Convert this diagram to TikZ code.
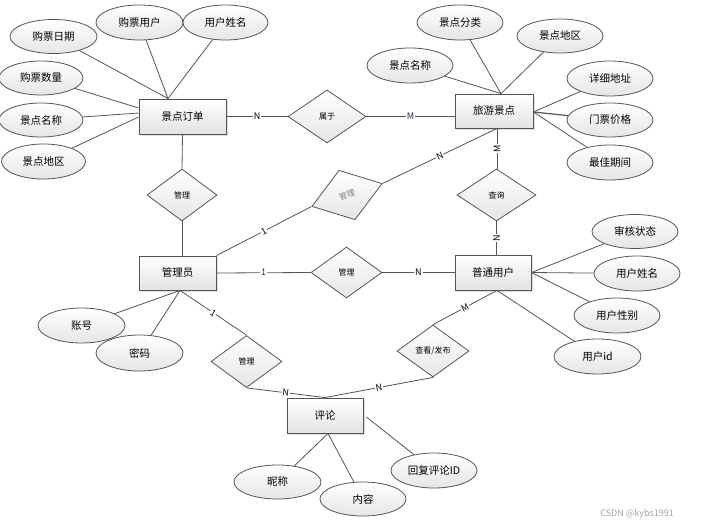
\documentclass[tikz,border=0pt]{standalone}
\usepackage{fontspec}
\setmainfont{Noto Sans CJK SC}
\usetikzlibrary{shapes.geometric,shadows,calc}
\definecolor{linec}{RGB}{85,85,85}
\definecolor{navy}{RGB}{25,45,120}
\begin{document}
\begin{tikzpicture}[x=1pt,y=-1pt,
  ent/.style={rectangle, draw=linec, line width=0.9pt, top color=white, bottom color=gray!22,
    minimum width=#1, minimum height=35pt, inner sep=0pt, font=\fontsize{10.5}{12}\selectfont,
    drop shadow={opacity=0.25,shadow xshift=1.5pt,shadow yshift=-1.5pt}},
  ent/.default=77pt,
  att/.style={ellipse, draw=linec, line width=0.8pt, top color=white, bottom color=gray!20,
    minimum width=#1, minimum height=34pt, inner sep=0pt, font=\fontsize{10.5}{12}\selectfont},
  att/.default=86pt,
  rel/.style={diamond, draw=linec, line width=0.8pt, top color=white, bottom color=gray!20,
    minimum width=#1, minimum height=52pt, inner sep=0pt, font=\fontsize{8}{9}\selectfont},
  rel/.default=72pt,
  conn/.style={draw=linec, line width=0.8pt},
  lab/.style={fill=white, inner sep=0.8pt, font=\fontsize{9}{10}\selectfont},
]
\fill[white] (0,0) rectangle (706,527);
\useasboundingbox (0,0) rectangle (706,527);

% entities
\node[ent=87pt] (o) at (182.5,116.5) {景点订单};
\node[ent=78pt, minimum height=34pt] (s) at (494,111) {旅游景点};
\node[ent=77pt, minimum height=34pt] (a) at (177.5,273) {管理员};
\node[ent=76pt] (u) at (493,272.5) {普通用户};
\node[ent=76pt] (c) at (325,415.5) {评论};

% relationships
\node[rel=78pt, minimum height=53pt] (r1) at (327,116.5) {属于};
\node[rel=70pt] (r2) at (182,195) {管理};
\node[rel=74pt, rotate=18, text=gray] (rg) at (347,195) {管理};
\node[rel=71pt, minimum height=51pt] (r3) at (346.5,272.5) {管理};
\node[rel=79pt] (r4) at (496.5,195) {查询};
\node[rel=72pt] (r5) at (433,351) {查看/发布};
\node[rel=71pt] (r6) at (246.5,361.5) {管理};

% attributes of 景点订单
\node[att=87pt] (e1) at (53.5,36.5) {购票日期};
\node[att=87pt, minimum height=35pt] (e2) at (139.5,22.5) {购票用户};
\node[att=85pt, minimum height=35pt] (e3) at (225.5,22.5) {用户姓名};
\node[att=84pt] (e4) at (41,78) {购票数量};
\node[att=84pt] (e5) at (41,120) {景点名称};
\node[att=84pt, minimum height=35pt] (e6) at (43.5,161.5) {景点地区};

% attributes of 旅游景点
\node[att, minimum height=35pt] (f1) at (460,22.5) {景点分类};
\node[att] (f2) at (560,36) {景点地区};
\node[att, minimum height=35pt] (f3) at (410,65.5) {景点名称};
\node[att, minimum height=35pt] (f4) at (610,78.5) {详细地址};
\node[att] (f5) at (610,120) {门票价格};
\node[att, minimum height=35pt] (f6) at (610,162.5) {最佳期间};

% attributes of 普通用户
\node[att] (g1) at (635,231.5) {审核状态};
\node[att, minimum height=35pt] (g2) at (637,273.5) {用户姓名};
\node[att, minimum height=35pt] (g3) at (617,315.5) {用户性别};
\node[att=87pt, minimum height=35pt] (g4) at (597.5,356.5) {用户id};

% attributes of 管理员
\node[att=87pt, minimum height=35pt] (h1) at (81.5,325.5) {账号};
\node[att=87pt, minimum height=36pt] (h2) at (139.5,353) {密码};

% attributes of 评论
\node[att=87pt] (k1) at (277.5,482) {昵称};
\node[att=86pt] (k2) at (363,499) {内容};
\node[att=86pt, minimum height=35pt] (k3) at (434,470.5) {回复评论ID};

% anchor points
\coordinate (oT) at ($(o.north)+(-14.5,0)$);
\coordinate (oL1) at ($(o.west)+(0,-8.5)$);
\coordinate (oL2) at ($(o.west)+(0,-3.5)$);
\coordinate (oL3) at ($(o.west)+(0,0.5)$);
\coordinate (sT) at ($(s.north)+(7,0)$);
\coordinate (sR) at ($(s.east)+(0,1)$);
\coordinate (sB) at ($(s.south)+(3,0)$);
\coordinate (aB) at ($(a.south)+(2.5,0)$);
\coordinate (uB) at ($(u.south)+(4,0)$);
\coordinate (cB) at ($(c.south)+(3,0)$);
\coordinate (cR) at ($(c.east)+(3,1.5)$);

% attribute connectors
\draw[conn] (e1) -- (oT);
\draw[conn] (e2) -- (oT);
\draw[conn] (e3) -- (oT);
\draw[conn] (e4) -- (oL1);
\draw[conn] (e5) -- (oL2);
\draw[conn] (e6) -- (oL3);
\draw[conn] (f1) -- (sT);
\draw[conn] (f2) -- (sT);
\draw[conn] (f3) -- (sT);
\draw[conn] (f4) -- (sR);
\draw[conn, line width=1.2pt] (f5) -- (sR);
\draw[conn] (f6) -- (sR);
\draw[conn] (g1) -- (u.east);
\draw[conn] (g2) -- (u.east);
\draw[conn] (g3) -- (u.east);
\draw[conn] (g4) -- (uB);
\draw[conn] (h1) -- (aB);
\draw[conn] (h2) -- (aB);
\draw[conn] (k1) -- (cB);
\draw[conn] (k2) -- (cB);
\draw[conn] (k3) -- (cR);

% relationship connectors
\draw[conn] (o.east) -- node[lab] {N} (r1.west);
\draw[conn] (r1.east) -- node[lab, text=navy] {M} (r1.east -| s.west);
\draw[conn] (o.south) -- (r2.north);
\draw[conn] (r2.south) -- (r2.south |- a.north);
\draw[conn] (a.north east) -- node[lab, sloped] {1} (rg.west);
\draw[conn] (rg.east) -- node[lab, sloped] {N} (sB);
\draw[conn] (sB) -- node[lab, rotate=90] {M} (sB |- r4.north);
\draw[conn] (r4.south) -- node[lab, rotate=90] {N} (r4.south |- u.north);
\draw[conn] (a.east) -- node[lab, text=navy] {1} (r3.west);
\draw[conn] (r3.east) -- node[lab] {N} (r3.east -| u.west);
\draw[conn] (uB) -- node[lab, sloped] {M} (r5.north);
\draw[conn] (r5.south) -- node[lab, sloped] {N} (c.north);
\draw[conn] (aB) -- node[lab, sloped] {1} (r6.north);
\draw[conn] (r6.south) -- node[lab, sloped] {N} (c.north);

% watermark
\node[text=gray!70, font=\fontsize{9}{10}\selectfont] (wm) at (637,514) {CSDN @kybs1991};
\end{tikzpicture}
\end{document}
